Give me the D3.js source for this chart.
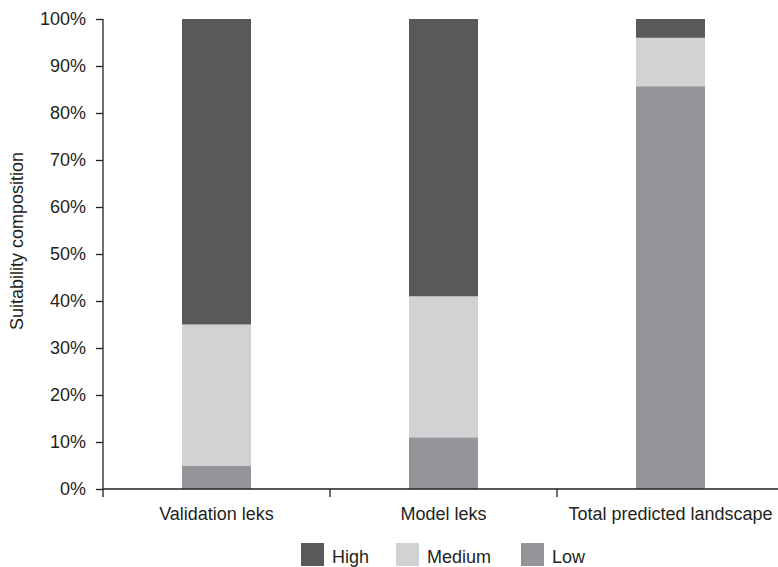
<!DOCTYPE html>
<html>
<head>
<meta charset="utf-8">
<script src="https://cdn.jsdelivr.net/npm/d3@7"></script>
<style>
  body { margin: 0; background: #fff; }
  svg { display: block; font-family: "Liberation Sans", Arial, sans-serif; }
  .axis path, .axis line { stroke: #231f20; stroke-width: 1.3; }
  .axis text { font-size: 18px; fill: #231f20; }
</style>
</head>
<body>
<svg id="chart" width="778" height="567"></svg>
<script>
// --- Data ---
const categories = ["Validation leks", "Model leks", "Total predicted landscape"];
const lowValues = [5, 11, 85.7];
const mediumValues = [30, 30, 10.3];
const highValues = [65, 59, 4];
const seriesNames = ["High", "Medium", "Low"];
const yTicks = [0, 10, 20, 30, 40, 50, 60, 70, 80, 90, 100];

const colors = { High: "#58595b", Medium: "#d1d2d4", Low: "#939598" };

// --- Layout ---
const svg = d3.select("#chart");
const margin = { left: 103, top: 19, bottom: 78 };
const plotBottom = 567 - margin.bottom;

const x = d3.scaleBand().domain(categories).range([103, 784]).paddingInner(0).paddingOuter(0);
const y = d3.scaleLinear().domain([0, 100]).range([plotBottom, margin.top]);

const barWidth = 69;

// Stack table built from the named arrays (bottom to top: Low, Medium, High)
const table = categories.map(function (c, i) {
  return { category: c, Low: lowValues[i], Medium: mediumValues[i], High: highValues[i] };
});
const stack = d3.stack().keys(["Low", "Medium", "High"]);
const layers = stack(table);

// --- Bars ---
svg.append("g").selectAll("g")
  .data(layers)
  .join("g")
  .attr("fill", function (d) { return colors[d.key]; })
  .selectAll("rect")
  .data(function (d) { return d; })
  .join("rect")
  .attr("x", function (d) { return x(d.data.category) + x.bandwidth() / 2 - barWidth / 2; })
  .attr("width", barWidth)
  .attr("y", function (d) { return y(d[1]); })
  .attr("height", function (d) { return y(d[0]) - y(d[1]); });

// --- Y axis ---
const yAxis = svg.append("g")
  .attr("class", "axis")
  .attr("transform", "translate(" + margin.left + ",0)")
  .call(d3.axisLeft(y).tickValues(yTicks).tickSize(7).tickPadding(10)
    .tickFormat(function (d) { return d + "%"; }));
yAxis.select(".domain").remove();
yAxis.append("line")
  .attr("x1", 0).attr("x2", 0)
  .attr("y1", margin.top).attr("y2", plotBottom + 8)
  .attr("stroke", "#231f20").attr("stroke-width", 1.3);

// --- X axis (ticks on band boundaries) ---
const xg = svg.append("g").attr("class", "axis");
xg.append("line")
  .attr("x1", 103).attr("x2", 778)
  .attr("y1", plotBottom).attr("y2", plotBottom);
xg.selectAll(".xtick")
  .data(categories.slice(1))
  .join("line")
  .attr("class", "xtick")
  .attr("x1", function (d) { return x(d); })
  .attr("x2", function (d) { return x(d); })
  .attr("y1", plotBottom).attr("y2", plotBottom + 8);
xg.selectAll(".xlabel")
  .data(categories)
  .join("text")
  .attr("class", "xlabel")
  .attr("x", function (d) { return x(d) + x.bandwidth() / 2; })
  .attr("y", plotBottom + 31)
  .attr("text-anchor", "middle")
  .text(function (d) { return d; });

// --- Y title ---
svg.append("text")
  .attr("transform", "translate(23,241) rotate(-90)")
  .attr("text-anchor", "middle")
  .attr("font-size", 18)
  .attr("fill", "#231f20")
  .text("Suitability composition");

// --- Legend ---
const legendX = [301, 396, 521];
const legend = svg.append("g").selectAll("g")
  .data(seriesNames)
  .join("g")
  .attr("transform", function (d, i) { return "translate(" + legendX[i] + ",543)"; });
legend.append("rect")
  .attr("width", 23).attr("height", 23)
  .attr("fill", function (d) { return colors[d]; });
legend.append("text")
  .attr("x", 31).attr("y", 20)
  .attr("font-size", 18)
  .attr("fill", "#231f20")
  .text(function (d) { return d; });
</script>
</body>
</html>
